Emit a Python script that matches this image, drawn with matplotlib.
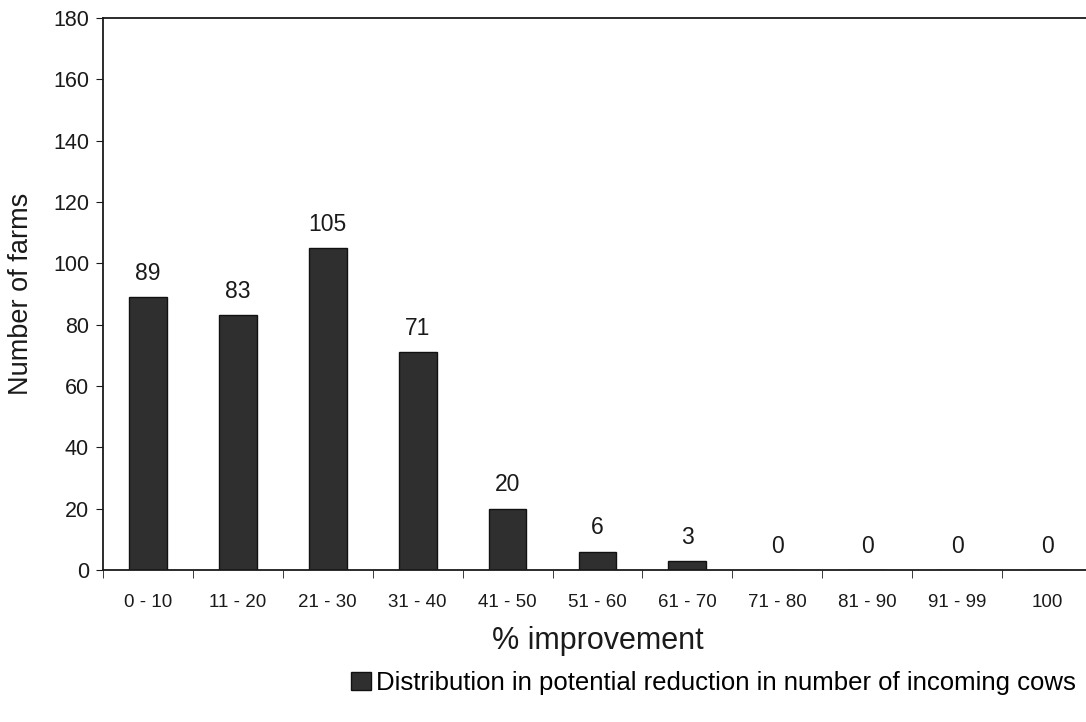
import numpy as np
import matplotlib.pyplot as plt
from matplotlib.patches import Patch

plt.rcParams['font.family'] = ['Liberation Sans', 'DejaVu Sans']

# Farms grouped by % improvement
categories = ['0 - 10', '11 - 20', '21 - 30', '31 - 40', '41 - 50', '51 - 60',
              '61 - 70', '71 - 80', '81 - 90', '91 - 99', '100']
farms = [89, 83, 105, 71, 20, 6, 3, 0, 0, 0, 0]
series_name = 'Distribution in potential reduction in number of incoming cows'

fig = plt.figure(figsize=(10.86, 7.22), dpi=100)
ax = fig.add_axes([0.0948, 0.2105, 0.9107, 0.7645])

x = np.arange(len(categories))
ax.bar(x, farms, width=0.42, color='#2f2f2f', edgecolor='#111111', linewidth=1.0)

for xi, v in zip(x, farms):
    ax.text(xi, v + 4, str(v), ha='center', va='bottom', fontsize=16.5, color='#1a1a1a')

ax.set_xlim(-0.5, len(categories) - 0.5)
ax.set_ylim(0, 180)
ax.set_yticks(range(0, 181, 20))
ax.tick_params(axis='y', labelsize=15.5, length=5, direction='out', colors='#1a1a1a', pad=5)

# category labels sit between boundary ticks
ax.set_xticks(x)
ax.set_xticklabels(categories, fontsize=13.5, color='#1a1a1a')
ax.tick_params(axis='x', which='major', length=0, pad=17)
ax.set_xticks(np.arange(-0.5, len(categories)), minor=True)
ax.tick_params(axis='x', which='minor', length=6, direction='out', color='#1a1a1a')

for s in ax.spines.values():
    s.set_color('#1a1a1a')
    s.set_linewidth(1.3)

ax.set_ylabel('Number of farms', fontsize=19.5, color='#1a1a1a')
ax.yaxis.set_label_coords(-0.07, 0.5)
ax.set_xlabel('% improvement', fontsize=22, color='#1a1a1a', labelpad=11)

handle = Patch(facecolor='#2f2f2f', edgecolor='#111111')
fig.legend([handle], [series_name], loc='center', bbox_to_anchor=(0.657, 0.054),
           frameon=False, fontsize=18.5, handlelength=0.75, handleheight=0.75,
           handletextpad=0.2)

fig.savefig('out.png', dpi=100)
